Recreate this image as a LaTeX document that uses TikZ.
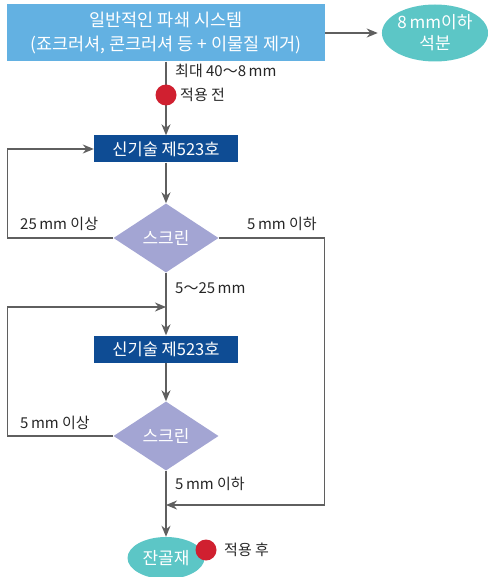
\documentclass[tikz,border=0pt]{standalone}
\usepackage{fontspec}
\setmainfont{Noto Sans CJK KR}
\usetikzlibrary{arrows.meta,shapes.geometric,positioning}
\definecolor{mylightblue}{RGB}{99,177,226}
\definecolor{mydarkblue}{RGB}{14,76,148}
\definecolor{mypurple}{RGB}{163,165,211}
\definecolor{myteal}{RGB}{92,198,198}
\definecolor{myred}{RGB}{208,32,48}
\definecolor{mygray}{RGB}{95,95,95}

\begin{document}
\begin{tikzpicture}[x=1pt,y=-1pt,
  sysbox/.style={rectangle,fill=mylightblue,text=white,align=center,inner sep=0pt,
               minimum width=318pt,minimum height=57pt,font=\fontsize{17.5}{24}\selectfont},
  techbox/.style={rectangle,fill=mydarkblue,text=white,inner sep=0pt,
               minimum width=144pt,minimum height=27pt,font=\fontsize{16.5}{18}\selectfont},
  screenbox/.style={diamond,fill=mypurple,text=white,inner sep=0pt,
               minimum width=105pt,minimum height=69pt,font=\fontsize{17}{18}\selectfont},
  outnode/.style={ellipse,fill=myteal,text=white,align=center,inner sep=0pt,
               font=\fontsize{17}{21}\selectfont},
  reddot/.style={circle,fill=myred,minimum size=21pt,inner sep=0pt},
  lbl/.style={anchor=west,inner sep=0pt,text=black!85,font=\fontsize{15}{17}\selectfont},
  arrow/.style={-{Stealth[length=11pt,width=9pt,inset=3.5pt]},line width=1.3pt,mygray}]
\useasboundingbox (0,0) rectangle (487,577);
% process nodes
\node[sysbox]     (s0) at (166,33)  {일반적인 파쇄 시스템\\(죠크러셔, 콘크러셔 등 + 이물질 제거)};
\node[outnode,minimum width=101pt,minimum height=57pt] (e1) at (435,33) {8\,mm이하\\석분};
\node[techbox]    (t1) at (166,149) {신기술 제523호};
\node[screenbox]  (d1) at (166,238) {스크린};
\node[techbox]    (t2) at (166,349) {신기술 제523호};
\node[screenbox]  (d2) at (166,436) {스크린};
\node[outnode,minimum width=77pt,minimum height=42pt] (e2) at (166,558) {잔골재};
\coordinate (j1) at (166,505);
\coordinate (j2) at (166,307);
% connectors
\draw[arrow] (s0.east) -- ([xshift=-4pt]e1.west);
\draw[arrow] (s0.south) -- (t1.north);
\draw[arrow] (t1.south) -- (d1.north);
\draw[arrow] (d1.south) -- (t2.north);
\draw[arrow] (t2.south) -- (d2.north);
\draw[arrow] (d2.south) -- (e2.north);
\draw[arrow] (d1.west) -- ++(-106,0) |- (t1.west);
\draw[arrow] (d1.east) -- ++(106,0) |- (j1);
\draw[arrow] (d2.west) -- ++(-106,0) |- (j2);
% markers and labels
\node[reddot] (r1) at (166,95) {};
\node[reddot] (r2) at (206,550) {};
\node[lbl] (l1) at (175,71)  {최대 40～8\,mm};
\node[lbl] (l2) at (180,95)  {적용 전};
\node[lbl] (l3) at (20,224)  {25\,mm 이상};
\node[lbl] (l4) at (247,224) {5\,mm 이하};
\node[lbl] (l5) at (175,288) {5～25\,mm};
\node[lbl] (l6) at (20,423)  {5\,mm 이상};
\node[lbl] (l7) at (175,484) {5\,mm 이하};
\node[lbl] (l8) at (224,550) {적용 후};
\end{tikzpicture}
\end{document}
